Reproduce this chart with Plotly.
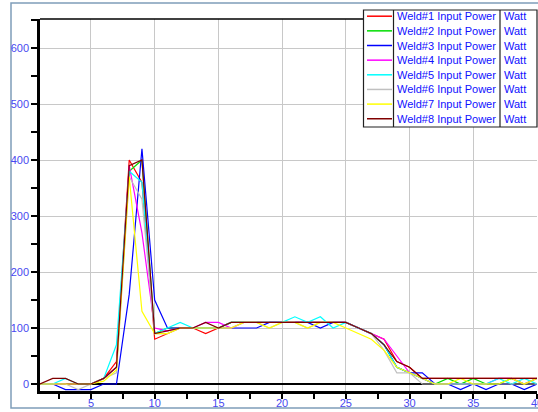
import plotly.graph_objects as go

x_vals = list(range(1, 41))

series_names = ["Weld#1 Input Power", "Weld#2 Input Power", "Weld#3 Input Power",
                "Weld#4 Input Power", "Weld#5 Input Power", "Weld#6 Input Power",
                "Weld#7 Input Power", "Weld#8 Input Power"]
units = ["Watt"] * 8
colors = ["#FF0000", "#00DD00", "#0000FF", "#FF00FF", "#00FFFF", "#C0C0C0", "#FFFF00", "#800000"]

weld1 = [0, 0, 0, 0, 0, 10, 40, 400, 360, 80,
         90, 100, 100, 90, 100, 110, 110, 110, 110, 110, 110, 110, 110, 110, 110,
         100, 90, 80, 40, 30, 10, 10, 10, 10, 10, 10, 10, 10, 10, 10]
weld2 = [0, 0, 0, 0, 0, 10, 30, 380, 400, 90,
         100, 100, 100, 100, 100, 110, 110, 110, 110, 110, 110, 110, 110, 110, 110,
         100, 90, 70, 30, 20, 10, 0, 10, 0, 10, 0, 0, 10, 0, 10]
weld3 = [0, 0, -10, -10, -10, 0, 0, 160, 420, 150,
         100, 100, 100, 100, 100, 100, 100, 100, 110, 110, 110, 110, 100, 110, 110,
         100, 90, 70, 30, 20, 20, 0, 0, -10, 0, -10, 0, 0, -10, 0]
weld4 = [0, 0, 0, 0, 0, 10, 30, 390, 270, 100,
         95, 100, 100, 110, 110, 100, 110, 110, 110, 110, 110, 110, 110, 110, 110,
         100, 90, 80, 50, 20, 10, 0, 0, 0, 0, 0, 10, 10, 0, 10]
weld5 = [0, 0, 10, 0, 0, 10, 70, 380, 360, 90,
         100, 110, 100, 100, 100, 110, 110, 110, 110, 110, 120, 110, 120, 100, 110,
         100, 90, 70, 30, 20, 10, 0, 0, 0, 0, 0, 10, 0, 10, 0]
weld6 = [0, 0, 0, -10, 0, 10, 20, 370, 330, 90,
         90, 100, 100, 100, 100, 100, 110, 110, 100, 110, 110, 100, 110, 110, 110,
         100, 90, 60, 20, 20, 0, 0, 0, 0, 0, 0, 0, 0, 0, 0]
weld7 = [0, 0, 0, 0, 0, 5, 25, 370, 130, 90,
         90, 100, 100, 100, 100, 100, 110, 110, 100, 110, 110, 100, 110, 110, 100,
         90, 80, 60, 30, 20, 10, 0, 0, 10, 0, 0, 0, 10, 0, 10]
weld8 = [0, 10, 10, 0, 0, 10, 30, 390, 400, 90,
         95, 100, 100, 110, 100, 110, 110, 110, 110, 110, 110, 110, 110, 110, 110,
         100, 90, 70, 40, 30, 10, 10, 10, 10, 10, 10, 10, 10, 10, 10]

all_series = [weld1, weld2, weld3, weld4, weld5, weld6, weld7, weld8]

x_ticks = [5, 10, 15, 20, 25, 30, 35, 40]
y_ticks = [0, 100, 200, 300, 400, 500, 600]

W, H = 538, 412
ML, MR, MT, MB = 40, 1, 19, 21
PW, PH = W - ML - MR, H - MT - MB


def px(xp):
    return (xp - ML) / PW


def py(yp):
    return (H - MB - yp) / PH


fig = go.Figure()
for name, ys, c in zip(series_names, all_series, colors):
    fig.add_trace(go.Scatter(x=x_vals, y=ys, mode="lines", name=name,
                             line=dict(color=c, width=1.2), showlegend=False))

font = "Arial, Liberation Sans, sans-serif"
lab_color = "#4848F0"

fig.update_layout(
    width=W, height=H, margin=dict(l=ML, r=MR, t=MT, b=MB, autoexpand=False),
    paper_bgcolor="white", plot_bgcolor="white",
    xaxis=dict(range=[1, 40], tickmode="array", tickvals=x_ticks,
               ticktext=[str(v) for v in x_ticks], automargin=False,
               ticklabeloverflow="allow", ticklabelstandoff=-5,
               showgrid=True, gridcolor="#C8C8C8", gridwidth=1,
               ticks="outside", ticklen=5, tickwidth=1.5, tickcolor="black",
               showline=True, linecolor="black", linewidth=2.5,
               zeroline=False,
               tickfont=dict(family=font, size=11, color=lab_color),
               minor=dict(tickmode="linear", tick0=0, dtick=2.5, ticks="outside",
                          ticklen=5, tickwidth=1.5, tickcolor="black", showgrid=False)),
    yaxis=dict(range=[-12.5, 651.8], tickmode="array", tickvals=y_ticks,
               ticktext=[str(v) for v in y_ticks], automargin=False,
               showgrid=True, gridcolor="#C8C8C8", gridwidth=1,
               ticks="outside", ticklen=6, tickwidth=1.5, tickcolor="black",
               showline=True, linecolor="black", linewidth=2.5,
               zeroline=True, zerolinecolor="black", zerolinewidth=1.5,
               tickfont=dict(family=font, size=11, color=lab_color),
               minor=dict(tickmode="linear", tick0=0, dtick=50, ticks="outside",
                          ticklen=6, tickwidth=1.5, tickcolor="black", showgrid=False)),
    xaxis2=dict(overlaying="x", anchor="y", side="bottom", range=[1, 40],
                automargin=False,
                tickmode="linear", tick0=0, dtick=2.5, ticks="inside", ticklen=4,
                tickwidth=1.5, tickcolor="black", showticklabels=False,
                showgrid=False, zeroline=False, showline=False),
    yaxis2=dict(overlaying="y", anchor="x", side="left", range=[-12.5, 651.8],
                automargin=False,
                tickmode="linear", tick0=0, dtick=50, ticks="inside", ticklen=5,
                tickwidth=1.5, tickcolor="black", showticklabels=False,
                showgrid=False, zeroline=False, showline=False),
)

shapes = []
# outer frame
shapes.append(dict(type="rect", xref="paper", yref="paper",
                   x0=px(11), x1=px(545), y0=py(408), y1=py(3),
                   line=dict(color="#7F9DB9", width=1.5), fillcolor="rgba(0,0,0,0)", layer="below"))
# top border of plot area
shapes.append(dict(type="line", xref="paper", yref="paper",
                   x0=0, x1=1, y0=1, y1=1, line=dict(color="black", width=1.5)))
# legend box
lx0, lx1, lsep1, lsep2 = 363.5, 537, 393.5, 500
ly0, ly1 = 10, 127
shapes.append(dict(type="rect", xref="paper", yref="paper",
                   x0=px(lx0), x1=px(lx1), y0=py(ly1), y1=py(ly0),
                   line=dict(color="#202020", width=1.2), fillcolor="white", layer="above"))
for sx in (lsep1, lsep2):
    shapes.append(dict(type="line", xref="paper", yref="paper",
                       x0=px(sx), x1=px(sx), y0=py(ly1), y1=py(ly0),
                       line=dict(color="#202020", width=1.2), layer="above"))

annotations = []
row_h = 14.65
for i, (name, unit, c) in enumerate(zip(series_names, units, colors)):
    yc = 16.2 + i * row_h
    shapes.append(dict(type="line", xref="paper", yref="paper",
                       x0=px(367), x1=px(392), y0=py(yc), y1=py(yc),
                       line=dict(color=c, width=1.5), layer="above"))
    annotations.append(dict(xref="paper", yref="paper", x=px(395), y=py(yc),
                            text=name, showarrow=False, xanchor="left", yanchor="middle",
                            font=dict(family=font, size=11, color="#1010FF")))
    annotations.append(dict(xref="paper", yref="paper", x=px(502), y=py(yc),
                            text=unit, showarrow=False, xanchor="left", yanchor="middle",
                            font=dict(family=font, size=11, color="#1010FF")))

fig.update_layout(shapes=shapes, annotations=annotations)

fig.write_html("out.html")
